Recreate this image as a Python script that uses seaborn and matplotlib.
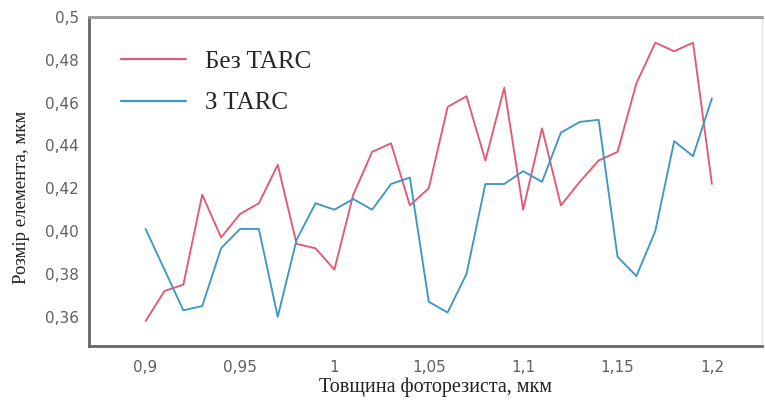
import numpy as np
import pandas as pd
import matplotlib
matplotlib.use("Agg")
import matplotlib.pyplot as plt
import seaborn as sns

# Photoresist thickness, um
thickness = [0.90, 0.91, 0.92, 0.93, 0.94, 0.95, 0.96, 0.97, 0.98, 0.99,
             1.00, 1.01, 1.02, 1.03, 1.04, 1.05, 1.06, 1.07, 1.08, 1.09,
             1.10, 1.11, 1.12, 1.13, 1.14, 1.15, 1.16, 1.17, 1.18, 1.19, 1.20]

# Feature size without top anti-reflective coating, um
size_no_tarc = [0.358, 0.372, 0.375, 0.417, 0.397, 0.408, 0.413, 0.431, 0.394, 0.392,
                0.382, 0.417, 0.437, 0.441, 0.412, 0.420, 0.458, 0.463, 0.433, 0.467,
                0.410, 0.448, 0.412, 0.423, 0.433, 0.437, 0.469, 0.488, 0.484, 0.488, 0.422]

# Feature size with TARC, um
size_tarc = [0.401, 0.382, 0.363, 0.365, 0.392, 0.401, 0.401, 0.360, 0.396, 0.413,
             0.410, 0.415, 0.410, 0.422, 0.425, 0.367, 0.362, 0.380, 0.422, 0.422,
             0.428, 0.423, 0.446, 0.451, 0.452, 0.388, 0.379, 0.400, 0.442, 0.435, 0.462]

series_names = ["Без TARC", "З TARC"]
x_ticks = [0.9, 0.95, 1.0, 1.05, 1.1, 1.15, 1.2]
x_tick_labels = ["0,9", "0,95", "1", "1,05", "1,1", "1,15", "1,2"]
y_ticks = [0.36, 0.38, 0.40, 0.42, 0.44, 0.46, 0.48, 0.50]
y_tick_labels = ["0,36", "0,38", "0,40", "0,42", "0,44", "0,46", "0,48", "0,5"]

df = pd.DataFrame({
    "thickness": thickness * 2,
    "size": size_no_tarc + size_tarc,
    "series": [series_names[0]] * len(thickness) + [series_names[1]] * len(thickness),
})

sns.set_style("white")
plt.rcParams["font.family"] = ["Liberation Serif", "DejaVu Serif"]

fig = plt.figure(figsize=(7.65, 4.01), dpi=100)
ax = fig.add_axes([0.1163, 0.138, 0.8797, 0.8196])

palette = {series_names[0]: "#e05a76", series_names[1]: "#3d98c4"}
sns.lineplot(data=df, x="thickness", y="size", hue="series", palette=palette,
             linewidth=1.35, ax=ax, legend=True)

ax.set_xlim(0.870, 1.2265)
ax.set_ylim(0.3465, 0.5)
ax.set_xticks(x_ticks)
ax.set_xticklabels(x_tick_labels)
ax.set_yticks(y_ticks)
ax.set_yticklabels(y_tick_labels)

for lbl in ax.get_xticklabels() + ax.get_yticklabels():
    lbl.set_family(["DejaVu Sans"])
    lbl.set_fontsize(11)
    lbl.set_color("#606060")

ax.tick_params(axis="x", direction="in", length=4, width=1, color="#888888", pad=10)
ax.tick_params(axis="y", direction="out", length=4, width=1, color="#888888", pad=3)

for side in ["left", "bottom"]:
    ax.spines[side].set_color("#666666")
    ax.spines[side].set_linewidth(2)
ax.spines["top"].set_color("#999999")
ax.spines["top"].set_linewidth(2)
ax.spines["right"].set_color("#e4e4e4")
ax.spines["right"].set_linewidth(1)

ax.set_xlabel("Товщина фоторезиста, мкм", fontsize=14.5, color="#222222")
ax.set_ylabel("Розмір елемента, мкм", fontsize=13.5, color="#222222")
ax.xaxis.set_label_coords(0.5156, -0.097)
ax.yaxis.set_label_coords(-0.088, 0.451)

leg = ax.legend(loc="upper left", bbox_to_anchor=(0.014, 0.966), frameon=False,
                fontsize=18, handlelength=2.6, handletextpad=0.75, labelspacing=0.75)
for line in leg.get_lines():
    line.set_linewidth(1.6)

fig.savefig("out.png", dpi=100)
